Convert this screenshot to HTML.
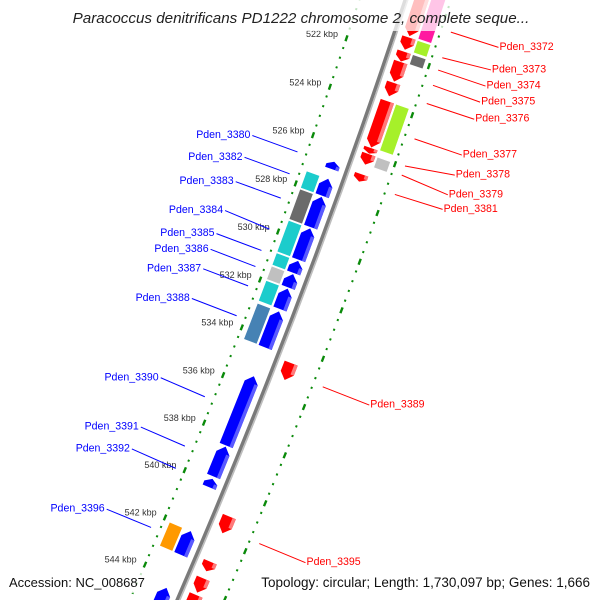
<!DOCTYPE html>
<html><head><meta charset="utf-8"><style>
html,body{margin:0;padding:0;background:#fff;width:600px;height:600px;overflow:hidden;}
svg{display:block;font-family:"Liberation Sans","DejaVu Sans",sans-serif;}
</style></head><body>
<svg id="map" width="600" height="600" viewBox="0 0 600 600" xmlns="http://www.w3.org/2000/svg">
<rect width="600" height="600" fill="#fff"/>
<g id="g-ticks"></g>
<g id="g-backbone"></g>
<g id="g-genes"></g>
<g id="g-labels"></g>
<rect x="64" y="0" width="474" height="31" fill="#fff" opacity="0.75"/>
<text x="301" y="23" text-anchor="middle" font-size="15.2" font-style="italic" fill="#222">Paracoccus denitrificans PD1222 chromosome 2, complete seque...</text>
<rect x="5" y="572" width="143" height="21" fill="#fff" opacity="0.75"/>
<text x="9" y="587" font-size="13" fill="#111">Accession: NC_008687</text>
<rect x="257" y="572" width="338" height="21" fill="#fff" opacity="0.75"/>
<text x="590" y="587" text-anchor="end" font-size="13.5" fill="#111">Topology: circular; Length: 1,730,097 bp; Genes: 1,666</text>
</svg>
<script>
// ---- data (kbp) ----
var fwdStart = [519.3,521.2,521.78,522.2,523.05,523.8,525.72,525.97,526.8,534.6,541.0,542.9,543.6,544.3];
var fwdEnd   = [521.14,521.7,522.18,523.0,523.6,525.7,525.95,526.4,527.1,535.3,541.7,543.3,544.2,545.3];
var revStart = [526.7,527.4,528.15,529.45,530.8,531.35,531.95,532.9,535.6,538.55,539.9,542.1,544.5];
var revEnd   = [527.0,528.1,529.4,530.75,531.3,531.9,532.8,534.4,538.5,539.8,540.25,543.1,546.0];
var cogOutStart = [519.3,521.2,521.78,523.8,525.97];
var cogOutEnd   = [521.14,521.7,522.18,525.7,526.4];
var cogOutColor = ["#ff1aa0","#a6f02a","#6b6b6b","#a6f02a","#c0c0c0"];
var cogInStart = [527.4,528.15,529.45,530.8,531.35,531.95,532.9,542.1];
var cogInEnd   = [528.1,529.4,530.75,531.3,531.9,532.8,534.4,543.1];
var cogInColor = ["#1ccccc","#6b6b6b","#1ccccc","#1ccccc","#c0c0c0","#1ccccc","#4682b4","#ff9900"];
var leftNames = ["Pden_3380","Pden_3382","Pden_3383","Pden_3384","Pden_3385","Pden_3386","Pden_3387","Pden_3388","Pden_3390","Pden_3391","Pden_3392","Pden_3396"];
var leftPos   = [526.82,527.73,528.74,530.03,530.92,531.59,532.40,533.65,537.05,539.13,540.07,542.57];
var leftLabelPos = [526.81,527.72,528.74,529.95,530.92,531.58,532.40,533.65,537.00,539.09,540.02,542.59];
var rightNames = ["Pden_3372","Pden_3373","Pden_3374","Pden_3375","Pden_3376","Pden_3377","Pden_3378","Pden_3379","Pden_3381","Pden_3389","Pden_3395"];
var rightPos   = [520.49,521.53,522.03,522.65,523.39,524.83,525.94,526.31,527.10,535.01,541.52];
var rightLabelPos = [520.47,521.38,522.03,522.68,523.37,524.82,525.63,526.43,527.02,535.01,541.51];
var tickLabels = [522,524,526,528,530,532,534,536,538,540,542,544];

// ---- geometry ----
var CX=-6338.6, CY=-2219.3, R0=7100;
function ang(k){return (18.66+(k-522)*0.20808)*Math.PI/180;}
function pt(k,r){var a=ang(k);return [CX+r*Math.cos(a),CY+r*Math.sin(a)];}
var NS="http://www.w3.org/2000/svg";
function mk(tag,parent){var e=document.createElementNS(NS,tag);parent.appendChild(e);return e;}
function poly(pts){return pts.map(function(p){return p[0].toFixed(2)+","+p[1].toFixed(2);}).join(" ");}

var gT=document.getElementById("g-ticks"),gB=document.getElementById("g-backbone"),
    gG=document.getElementById("g-genes"),gL=document.getElementById("g-labels");

function arcPath(r,k1,k2){var a=pt(k1,r),b=pt(k2,r);return "M"+a[0]+","+a[1]+" A"+r+","+r+" 0 0 1 "+b[0]+","+b[1];}
var bb1=mk("path",gB);


bb1.setAttribute("d",arcPath(R0-0.5,515,548));bb1.setAttribute("stroke","#7a7a7a");bb1.setAttribute("stroke-width","3.5");bb1.setAttribute("fill","none");
var bb2=mk("path",gB);


bb2.setAttribute("d",arcPath(R0+2,515,548));bb2.setAttribute("stroke","#bdbdbd");bb2.setAttribute("stroke-width","1.6");bb2.setAttribute("fill","none");

[7056,7143].forEach(function(r){
  for(var i=0;i<=80;i++){
    var k=516+i*0.4; k=Math.round(k*10)/10;
    var major=Math.abs(k/2-Math.round(k/2))<1e-6;
    var p;
    if(major){p=[pt(k-0.12,r-1.2),pt(k+0.12,r-1.2),pt(k+0.12,r+1.2),pt(k-0.12,r+1.2)];}
    else{p=[pt(k-0.04,r-1),pt(k+0.04,r-1),pt(k+0.04,r+1),pt(k-0.04,r+1)];}
    var e=mk("polygon",gT);
    
    
    e.setAttribute("points",poly(p));e.setAttribute("fill","#0a8a0a");
  }
});
tickLabels.forEach(function(k){
  var p=pt(k,7047);
  var t=mk("text",gT);
  
  
  t.setAttribute("x",p[0].toFixed(1));t.setAttribute("y",(p[1]+1.5).toFixed(1));
  t.setAttribute("text-anchor","end");t.setAttribute("font-size","9");t.setAttribute("fill","#333");
  t.textContent=k+" kbp";
});

function arrow(k1,k2,r1,r2,dir){
  var h=Math.min(0.28,(k2-k1)*0.5),rm=(r1+r2)/2;
  if(dir>0) return [pt(k1,r1),pt(k2-h,r1),pt(k2,rm),pt(k2-h,r2),pt(k1,r2)];
  return [pt(k1+h,r1),pt(k2,r1),pt(k2,r2),pt(k1+h,r2),pt(k1,rm)];
}
function drawGene(k1,k2,r1,r2,dir,col,light,name){
  var e=mk("polygon",gG);
  
  
  e.setAttribute("points",poly(arrow(k1,k2,r1,r2,dir)));e.setAttribute("fill",col);
  var s=mk("polygon",gG);
  
  
  var h=Math.min(0.28,(k2-k1)*0.5);
  var a=dir>0?k1:k1+h, b=dir>0?k2-h:k2;
  s.setAttribute("points",poly([pt(a,r2-3.5),pt(b,r2-3.5),pt(b,r2),pt(a,r2)]));s.setAttribute("fill",light);
}
function drawBox(k1,k2,r1,r2,col,name){
  var e=mk("polygon",gG);
  
  
  e.setAttribute("points",poly([pt(k1,r1),pt(k2,r1),pt(k2,r2),pt(k1,r2)]));e.setAttribute("fill",col);
  e.setAttribute("stroke","#fff");e.setAttribute("stroke-width","0.6");
}
for(var i=0;i<fwdStart.length;i++) drawGene(fwdStart[i],fwdEnd[i],7108,7122,1,"#ff0000","#ff7a7a","forward-gene");
for(var i=0;i<revStart.length;i++) drawGene(revStart[i],revEnd[i],7078,7092,-1,"#0000ff","#5a5aff","reverse-gene");
for(var i=0;i<cogOutStart.length;i++) drawBox(cogOutStart[i],cogOutEnd[i],7124,7138,cogOutColor[i],"forward-cog-box");
for(var i=0;i<cogInStart.length;i++) drawBox(cogInStart[i],cogInEnd[i],7062,7076,cogInColor[i],"reverse-cog-box");

function label(k,kl,r1,r2,name,col,side){
  var a=pt(k,r1),b=pt(kl,r2);
  var l=mk("line",gL);
  
  
  l.setAttribute("x1",a[0]);l.setAttribute("y1",a[1]);l.setAttribute("x2",b[0]);l.setAttribute("y2",b[1]);
  l.setAttribute("stroke",col);l.setAttribute("stroke-width","1");
  var t=mk("text",gL);
  
  
  t.setAttribute("x",(side<0?b[0]-2:b[0]+1).toFixed(1));t.setAttribute("y",(b[1]+2.5).toFixed(1));
  t.setAttribute("text-anchor",side<0?"end":"start");t.setAttribute("font-size","10.6");t.setAttribute("fill",col);
  t.textContent=name;
}
for(var i=0;i<leftNames.length;i++) label(leftPos[i],leftLabelPos[i],7047,6999,leftNames[i],"#0000ff",-1);
for(var i=0;i<rightNames.length;i++) label(rightPos[i],rightLabelPos[i],7153,7203,rightNames[i],"#ff0000",1);
</script>
</body></html>
